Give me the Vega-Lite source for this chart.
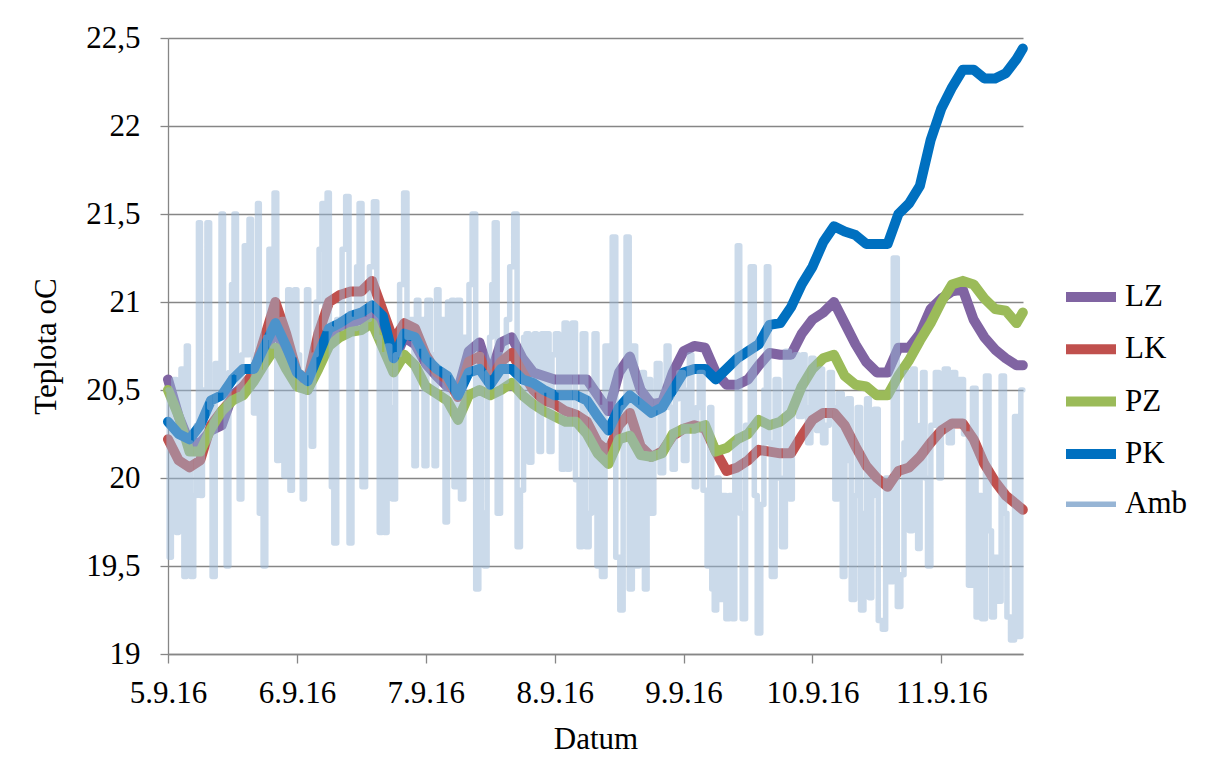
{
"$schema": "https://vega.github.io/schema/vega-lite/v6.json",
"width": 855, "height": 616,
"autosize": "none",
"padding": {"left": 168, "top": 38, "right": 190, "bottom": 124},
"background": "white",
"datasets": {
"main": [
{"t":"2016-09-05T00:00","LZ":20.56,"LK":20.22,"PZ":20.5,"PK":20.32},
{"t":"2016-09-05T02:00","LZ":20.35,"LK":20.1,"PZ":20.35,"PK":20.25},
{"t":"2016-09-05T04:00","LZ":20.2,"LK":20.06,"PZ":20.15,"PK":20.22},
{"t":"2016-09-05T06:00","LZ":20.2,"LK":20.1,"PZ":20.15,"PK":20.3},
{"t":"2016-09-05T08:00","LZ":20.27,"LK":20.3,"PZ":20.28,"PK":20.44},
{"t":"2016-09-05T10:00","LZ":20.3,"LK":20.38,"PZ":20.38,"PK":20.47},
{"t":"2016-09-05T12:00","LZ":20.47,"LK":20.45,"PZ":20.44,"PK":20.56},
{"t":"2016-09-05T14:00","LZ":20.52,"LK":20.52,"PZ":20.47,"PK":20.62},
{"t":"2016-09-05T16:00","LZ":20.58,"LK":20.6,"PZ":20.55,"PK":20.62},
{"t":"2016-09-05T18:00","LZ":20.7,"LK":20.8,"PZ":20.65,"PK":20.75},
{"t":"2016-09-05T20:00","LZ":20.85,"LK":21.0,"PZ":20.74,"PK":20.88},
{"t":"2016-09-05T22:00","LZ":20.7,"LK":20.82,"PZ":20.62,"PK":20.75},
{"t":"2016-09-06T00:00","LZ":20.55,"LK":20.6,"PZ":20.52,"PK":20.6},
{"t":"2016-09-06T02:00","LZ":20.5,"LK":20.55,"PZ":20.5,"PK":20.55},
{"t":"2016-09-06T04:00","LZ":20.68,"LK":20.82,"PZ":20.62,"PK":20.7},
{"t":"2016-09-06T06:00","LZ":20.82,"LK":21.0,"PZ":20.75,"PK":20.85},
{"t":"2016-09-06T08:00","LZ":20.86,"LK":21.04,"PZ":20.8,"PK":20.88},
{"t":"2016-09-06T10:00","LZ":20.88,"LK":21.06,"PZ":20.83,"PK":20.92},
{"t":"2016-09-06T12:00","LZ":20.9,"LK":21.06,"PZ":20.84,"PK":20.94},
{"t":"2016-09-06T14:00","LZ":20.95,"LK":21.12,"PZ":20.88,"PK":20.98},
{"t":"2016-09-06T16:00","LZ":20.85,"LK":20.95,"PZ":20.74,"PK":20.92},
{"t":"2016-09-06T18:00","LZ":20.66,"LK":20.78,"PZ":20.6,"PK":20.68},
{"t":"2016-09-06T20:00","LZ":20.8,"LK":20.88,"PZ":20.7,"PK":20.82},
{"t":"2016-09-06T22:00","LZ":20.76,"LK":20.85,"PZ":20.64,"PK":20.8},
{"t":"2016-09-07T00:00","LZ":20.65,"LK":20.7,"PZ":20.52,"PK":20.68},
{"t":"2016-09-07T02:00","LZ":20.58,"LK":20.6,"PZ":20.48,"PK":20.62},
{"t":"2016-09-07T04:00","LZ":20.52,"LK":20.56,"PZ":20.44,"PK":20.58},
{"t":"2016-09-07T06:00","LZ":20.5,"LK":20.46,"PZ":20.33,"PK":20.47},
{"t":"2016-09-07T08:00","LZ":20.72,"LK":20.66,"PZ":20.47,"PK":20.6},
{"t":"2016-09-07T10:00","LZ":20.77,"LK":20.69,"PZ":20.5,"PK":20.62},
{"t":"2016-09-07T12:00","LZ":20.58,"LK":20.55,"PZ":20.47,"PK":20.53},
{"t":"2016-09-07T14:00","LZ":20.77,"LK":20.66,"PZ":20.5,"PK":20.62},
{"t":"2016-09-07T16:00","LZ":20.8,"LK":20.71,"PZ":20.54,"PK":20.62},
{"t":"2016-09-07T18:00","LZ":20.68,"LK":20.6,"PZ":20.47,"PK":20.56},
{"t":"2016-09-07T20:00","LZ":20.6,"LK":20.5,"PZ":20.42,"PK":20.54},
{"t":"2016-09-07T22:00","LZ":20.58,"LK":20.44,"PZ":20.38,"PK":20.5},
{"t":"2016-09-08T00:00","LZ":20.56,"LK":20.42,"PZ":20.35,"PK":20.47},
{"t":"2016-09-08T02:00","LZ":20.56,"LK":20.38,"PZ":20.32,"PK":20.47},
{"t":"2016-09-08T04:00","LZ":20.56,"LK":20.36,"PZ":20.32,"PK":20.47},
{"t":"2016-09-08T06:00","LZ":20.56,"LK":20.32,"PZ":20.25,"PK":20.44},
{"t":"2016-09-08T08:00","LZ":20.47,"LK":20.2,"PZ":20.14,"PK":20.35},
{"t":"2016-09-08T10:00","LZ":20.38,"LK":20.15,"PZ":20.08,"PK":20.27},
{"t":"2016-09-08T12:00","LZ":20.6,"LK":20.3,"PZ":20.22,"PK":20.4},
{"t":"2016-09-08T14:00","LZ":20.69,"LK":20.37,"PZ":20.24,"PK":20.47},
{"t":"2016-09-08T16:00","LZ":20.5,"LK":20.18,"PZ":20.13,"PK":20.42},
{"t":"2016-09-08T18:00","LZ":20.42,"LK":20.12,"PZ":20.12,"PK":20.37},
{"t":"2016-09-08T20:00","LZ":20.43,"LK":20.15,"PZ":20.14,"PK":20.4},
{"t":"2016-09-08T22:00","LZ":20.6,"LK":20.24,"PZ":20.25,"PK":20.5},
{"t":"2016-09-09T00:00","LZ":20.72,"LK":20.28,"PZ":20.28,"PK":20.6},
{"t":"2016-09-09T02:00","LZ":20.75,"LK":20.3,"PZ":20.28,"PK":20.62},
{"t":"2016-09-09T04:00","LZ":20.74,"LK":20.28,"PZ":20.3,"PK":20.62},
{"t":"2016-09-09T06:00","LZ":20.6,"LK":20.15,"PZ":20.15,"PK":20.56},
{"t":"2016-09-09T08:00","LZ":20.53,"LK":20.04,"PZ":20.17,"PK":20.62},
{"t":"2016-09-09T10:00","LZ":20.53,"LK":20.06,"PZ":20.22,"PK":20.68},
{"t":"2016-09-09T12:00","LZ":20.56,"LK":20.1,"PZ":20.25,"PK":20.72},
{"t":"2016-09-09T14:00","LZ":20.64,"LK":20.16,"PZ":20.33,"PK":20.76},
{"t":"2016-09-09T16:00","LZ":20.71,"LK":20.15,"PZ":20.3,"PK":20.87},
{"t":"2016-09-09T18:00","LZ":20.7,"LK":20.14,"PZ":20.32,"PK":20.88},
{"t":"2016-09-09T20:00","LZ":20.7,"LK":20.14,"PZ":20.37,"PK":20.97},
{"t":"2016-09-09T22:00","LZ":20.82,"LK":20.24,"PZ":20.52,"PK":21.1},
{"t":"2016-09-10T00:00","LZ":20.9,"LK":20.33,"PZ":20.62,"PK":21.2},
{"t":"2016-09-10T02:00","LZ":20.94,"LK":20.37,"PZ":20.68,"PK":21.34},
{"t":"2016-09-10T04:00","LZ":21.0,"LK":20.37,"PZ":20.7,"PK":21.43},
{"t":"2016-09-10T06:00","LZ":20.88,"LK":20.3,"PZ":20.58,"PK":21.4},
{"t":"2016-09-10T08:00","LZ":20.76,"LK":20.18,"PZ":20.53,"PK":21.38},
{"t":"2016-09-10T10:00","LZ":20.66,"LK":20.07,"PZ":20.52,"PK":21.33},
{"t":"2016-09-10T12:00","LZ":20.6,"LK":20.0,"PZ":20.47,"PK":21.33},
{"t":"2016-09-10T14:00","LZ":20.6,"LK":19.95,"PZ":20.47,"PK":21.33},
{"t":"2016-09-10T16:00","LZ":20.74,"LK":20.04,"PZ":20.58,"PK":21.5},
{"t":"2016-09-10T18:00","LZ":20.74,"LK":20.06,"PZ":20.67,"PK":21.56},
{"t":"2016-09-10T20:00","LZ":20.82,"LK":20.12,"PZ":20.78,"PK":21.66},
{"t":"2016-09-10T22:00","LZ":20.96,"LK":20.2,"PZ":20.88,"PK":21.92},
{"t":"2016-09-11T00:00","LZ":21.02,"LK":20.27,"PZ":21.0,"PK":22.1},
{"t":"2016-09-11T02:00","LZ":21.06,"LK":20.31,"PZ":21.1,"PK":22.22},
{"t":"2016-09-11T04:00","LZ":21.07,"LK":20.31,"PZ":21.12,"PK":22.32},
{"t":"2016-09-11T06:00","LZ":20.9,"LK":20.22,"PZ":21.1,"PK":22.32},
{"t":"2016-09-11T08:00","LZ":20.8,"LK":20.08,"PZ":21.02,"PK":22.27},
{"t":"2016-09-11T10:00","LZ":20.73,"LK":19.98,"PZ":20.96,"PK":22.27},
{"t":"2016-09-11T12:00","LZ":20.68,"LK":19.9,"PZ":20.95,"PK":22.3},
{"t":"2016-09-11T14:00","LZ":20.64,"LK":19.85,"PZ":20.88,"PK":22.38},
{"t":"2016-09-11T15:10","LZ":20.64,"LK":19.82,"PZ":20.94,"PK":22.44}
],
"amb": [
{"t":"2016-09-05T00:00","Amb":20.5},
{"t":"2016-09-05T00:25","Amb":19.55},
{"t":"2016-09-05T00:50","Amb":20.1},
{"t":"2016-09-05T01:20","Amb":20.56},
{"t":"2016-09-05T01:45","Amb":19.69},
{"t":"2016-09-05T02:10","Amb":20.3},
{"t":"2016-09-05T02:40","Amb":20.62},
{"t":"2016-09-05T03:15","Amb":19.44},
{"t":"2016-09-05T03:35","Amb":20.75},
{"t":"2016-09-05T04:00","Amb":20.2},
{"t":"2016-09-05T04:30","Amb":19.44},
{"t":"2016-09-05T05:05","Amb":19.9},
{"t":"2016-09-05T05:30","Amb":20.3},
{"t":"2016-09-05T05:50","Amb":21.45},
{"t":"2016-09-05T06:15","Amb":19.9},
{"t":"2016-09-05T06:35","Amb":20.5},
{"t":"2016-09-05T07:00","Amb":20.45},
{"t":"2016-09-05T07:30","Amb":21.45},
{"t":"2016-09-05T08:00","Amb":20.4},
{"t":"2016-09-05T08:25","Amb":19.44},
{"t":"2016-09-05T09:10","Amb":20.65},
{"t":"2016-09-05T09:40","Amb":20.5},
{"t":"2016-09-05T10:05","Amb":21.5},
{"t":"2016-09-05T10:35","Amb":20.5},
{"t":"2016-09-05T11:05","Amb":19.5},
{"t":"2016-09-05T11:35","Amb":20.6},
{"t":"2016-09-05T12:05","Amb":21.1},
{"t":"2016-09-05T12:30","Amb":21.5},
{"t":"2016-09-05T13:00","Amb":20.6},
{"t":"2016-09-05T13:30","Amb":19.88},
{"t":"2016-09-05T14:00","Amb":20.7},
{"t":"2016-09-05T14:25","Amb":21.32},
{"t":"2016-09-05T14:50","Amb":20.7},
{"t":"2016-09-05T15:20","Amb":21.47},
{"t":"2016-09-05T15:45","Amb":20.7},
{"t":"2016-09-05T16:05","Amb":20.37},
{"t":"2016-09-05T16:30","Amb":20.65},
{"t":"2016-09-05T16:50","Amb":21.56},
{"t":"2016-09-05T17:10","Amb":19.8},
{"t":"2016-09-05T17:30","Amb":20.6},
{"t":"2016-09-05T17:55","Amb":19.5},
{"t":"2016-09-05T18:30","Amb":20.8},
{"t":"2016-09-05T19:05","Amb":21.3},
{"t":"2016-09-05T19:30","Amb":20.75},
{"t":"2016-09-05T20:00","Amb":21.62},
{"t":"2016-09-05T20:30","Amb":20.1},
{"t":"2016-09-05T20:55","Amb":20.8},
{"t":"2016-09-05T21:20","Amb":20.9},
{"t":"2016-09-05T21:50","Amb":20.01},
{"t":"2016-09-05T22:10","Amb":20.7},
{"t":"2016-09-05T22:25","Amb":21.07},
{"t":"2016-09-05T23:00","Amb":19.93},
{"t":"2016-09-05T23:20","Amb":20.7},
{"t":"2016-09-05T23:45","Amb":21.07},
{"t":"2016-09-06T00:15","Amb":20.7},
{"t":"2016-09-06T00:45","Amb":20.5},
{"t":"2016-09-06T01:15","Amb":19.88},
{"t":"2016-09-06T01:35","Amb":20.6},
{"t":"2016-09-06T02:00","Amb":21.07},
{"t":"2016-09-06T02:25","Amb":20.6},
{"t":"2016-09-06T02:55","Amb":20.18},
{"t":"2016-09-06T03:20","Amb":20.7},
{"t":"2016-09-06T03:50","Amb":21.0},
{"t":"2016-09-06T04:25","Amb":21.3},
{"t":"2016-09-06T04:55","Amb":21.56},
{"t":"2016-09-06T05:25","Amb":20.85},
{"t":"2016-09-06T05:50","Amb":21.62},
{"t":"2016-09-06T06:15","Amb":20.85},
{"t":"2016-09-06T06:35","Amb":19.95},
{"t":"2016-09-06T07:10","Amb":19.63},
{"t":"2016-09-06T07:40","Amb":20.9},
{"t":"2016-09-06T08:05","Amb":20.85},
{"t":"2016-09-06T08:45","Amb":21.3},
{"t":"2016-09-06T09:25","Amb":21.6},
{"t":"2016-09-06T10:00","Amb":19.63},
{"t":"2016-09-06T10:30","Amb":20.9},
{"t":"2016-09-06T10:55","Amb":20.85},
{"t":"2016-09-06T11:20","Amb":21.2},
{"t":"2016-09-06T11:50","Amb":21.56},
{"t":"2016-09-06T12:25","Amb":19.95},
{"t":"2016-09-06T13:10","Amb":20.9},
{"t":"2016-09-06T13:50","Amb":21.2},
{"t":"2016-09-06T14:40","Amb":21.57},
{"t":"2016-09-06T15:05","Amb":20.8},
{"t":"2016-09-06T15:35","Amb":19.69},
{"t":"2016-09-06T16:05","Amb":20.7},
{"t":"2016-09-06T16:30","Amb":19.69},
{"t":"2016-09-06T17:05","Amb":20.75},
{"t":"2016-09-06T17:30","Amb":20.4},
{"t":"2016-09-06T18:00","Amb":19.88},
{"t":"2016-09-06T18:45","Amb":20.7},
{"t":"2016-09-06T19:30","Amb":21.1},
{"t":"2016-09-06T20:15","Amb":21.62},
{"t":"2016-09-06T20:45","Amb":20.8},
{"t":"2016-09-06T21:30","Amb":20.9},
{"t":"2016-09-06T22:05","Amb":20.07},
{"t":"2016-09-06T22:25","Amb":21.01},
{"t":"2016-09-06T23:00","Amb":20.75},
{"t":"2016-09-06T23:25","Amb":20.9},
{"t":"2016-09-06T23:55","Amb":20.07},
{"t":"2016-09-07T00:30","Amb":21.01},
{"t":"2016-09-07T01:15","Amb":20.7},
{"t":"2016-09-07T01:50","Amb":20.07},
{"t":"2016-09-07T02:10","Amb":21.07},
{"t":"2016-09-07T02:45","Amb":20.65},
{"t":"2016-09-07T03:20","Amb":20.9},
{"t":"2016-09-07T03:50","Amb":19.75},
{"t":"2016-09-07T04:15","Amb":21.0},
{"t":"2016-09-07T04:35","Amb":20.6},
{"t":"2016-09-07T05:00","Amb":21.01},
{"t":"2016-09-07T05:30","Amb":19.95},
{"t":"2016-09-07T06:05","Amb":21.01},
{"t":"2016-09-07T06:50","Amb":19.88},
{"t":"2016-09-07T07:20","Amb":20.8},
{"t":"2016-09-07T07:45","Amb":20.6},
{"t":"2016-09-07T08:20","Amb":21.1},
{"t":"2016-09-07T08:55","Amb":21.5},
{"t":"2016-09-07T09:40","Amb":19.37},
{"t":"2016-09-07T10:05","Amb":20.7},
{"t":"2016-09-07T10:35","Amb":19.8},
{"t":"2016-09-07T11:10","Amb":19.5},
{"t":"2016-09-07T11:40","Amb":20.6},
{"t":"2016-09-07T12:05","Amb":20.8},
{"t":"2016-09-07T12:30","Amb":21.1},
{"t":"2016-09-07T13:00","Amb":21.45},
{"t":"2016-09-07T13:35","Amb":19.8},
{"t":"2016-09-07T14:15","Amb":20.7},
{"t":"2016-09-07T14:45","Amb":20.55},
{"t":"2016-09-07T15:15","Amb":20.9},
{"t":"2016-09-07T16:00","Amb":21.2},
{"t":"2016-09-07T16:45","Amb":21.5},
{"t":"2016-09-07T17:15","Amb":19.61},
{"t":"2016-09-07T18:00","Amb":19.93},
{"t":"2016-09-07T18:25","Amb":20.8},
{"t":"2016-09-07T18:55","Amb":20.82},
{"t":"2016-09-07T19:30","Amb":20.09},
{"t":"2016-09-07T20:00","Amb":20.6},
{"t":"2016-09-07T20:25","Amb":20.82},
{"t":"2016-09-07T20:50","Amb":20.5},
{"t":"2016-09-07T21:20","Amb":20.15},
{"t":"2016-09-07T21:45","Amb":20.82},
{"t":"2016-09-07T22:10","Amb":20.5},
{"t":"2016-09-07T22:40","Amb":20.82},
{"t":"2016-09-07T23:15","Amb":20.15},
{"t":"2016-09-07T23:45","Amb":20.7},
{"t":"2016-09-08T00:30","Amb":20.82},
{"t":"2016-09-08T01:00","Amb":20.5},
{"t":"2016-09-08T01:30","Amb":20.05},
{"t":"2016-09-08T02:00","Amb":20.88},
{"t":"2016-09-08T02:35","Amb":20.05},
{"t":"2016-09-08T03:00","Amb":20.6},
{"t":"2016-09-08T03:30","Amb":20.88},
{"t":"2016-09-08T04:15","Amb":19.99},
{"t":"2016-09-08T04:50","Amb":19.61},
{"t":"2016-09-08T05:25","Amb":20.82},
{"t":"2016-09-08T06:10","Amb":19.61},
{"t":"2016-09-08T06:40","Amb":19.8},
{"t":"2016-09-08T07:05","Amb":20.5},
{"t":"2016-09-08T07:35","Amb":20.82},
{"t":"2016-09-08T08:10","Amb":19.5},
{"t":"2016-09-08T08:30","Amb":20.4},
{"t":"2016-09-08T08:55","Amb":19.44},
{"t":"2016-09-08T09:50","Amb":20.75},
{"t":"2016-09-08T10:25","Amb":20.45},
{"t":"2016-09-08T11:00","Amb":21.37},
{"t":"2016-09-08T11:45","Amb":19.55},
{"t":"2016-09-08T12:30","Amb":19.25},
{"t":"2016-09-08T13:00","Amb":20.4},
{"t":"2016-09-08T13:35","Amb":21.37},
{"t":"2016-09-08T14:10","Amb":19.37},
{"t":"2016-09-08T14:45","Amb":20.75},
{"t":"2016-09-08T15:25","Amb":19.5},
{"t":"2016-09-08T16:00","Amb":20.4},
{"t":"2016-09-08T16:30","Amb":20.6},
{"t":"2016-09-08T16:55","Amb":19.37},
{"t":"2016-09-08T17:30","Amb":20.56},
{"t":"2016-09-08T18:15","Amb":19.8},
{"t":"2016-09-08T18:40","Amb":20.4},
{"t":"2016-09-08T19:10","Amb":20.65},
{"t":"2016-09-08T20:05","Amb":20.03},
{"t":"2016-09-08T20:30","Amb":20.5},
{"t":"2016-09-08T21:00","Amb":20.75},
{"t":"2016-09-08T21:35","Amb":20.4},
{"t":"2016-09-08T22:10","Amb":20.05},
{"t":"2016-09-08T22:45","Amb":20.45},
{"t":"2016-09-08T23:30","Amb":20.6},
{"t":"2016-09-09T00:25","Amb":20.1},
{"t":"2016-09-09T00:50","Amb":20.5},
{"t":"2016-09-09T01:20","Amb":20.7},
{"t":"2016-09-09T01:45","Amb":20.3},
{"t":"2016-09-09T02:15","Amb":19.95},
{"t":"2016-09-09T02:40","Amb":20.4},
{"t":"2016-09-09T03:10","Amb":20.6},
{"t":"2016-09-09T04:05","Amb":19.93},
{"t":"2016-09-09T04:40","Amb":19.5},
{"t":"2016-09-09T05:05","Amb":20.4},
{"t":"2016-09-09T05:25","Amb":19.37},
{"t":"2016-09-09T06:00","Amb":19.25},
{"t":"2016-09-09T06:20","Amb":20.0},
{"t":"2016-09-09T06:55","Amb":19.31},
{"t":"2016-09-09T07:30","Amb":19.9},
{"t":"2016-09-09T08:15","Amb":19.2},
{"t":"2016-09-09T08:45","Amb":19.9},
{"t":"2016-09-09T09:20","Amb":19.2},
{"t":"2016-09-09T09:45","Amb":20.2},
{"t":"2016-09-09T10:15","Amb":21.32},
{"t":"2016-09-09T10:40","Amb":19.8},
{"t":"2016-09-09T11:10","Amb":19.2},
{"t":"2016-09-09T11:55","Amb":20.3},
{"t":"2016-09-09T12:55","Amb":21.2},
{"t":"2016-09-09T13:25","Amb":19.9},
{"t":"2016-09-09T14:00","Amb":19.12},
{"t":"2016-09-09T14:45","Amb":19.85},
{"t":"2016-09-09T15:10","Amb":20.5},
{"t":"2016-09-09T15:40","Amb":21.2},
{"t":"2016-09-09T16:05","Amb":20.2},
{"t":"2016-09-09T16:35","Amb":19.44},
{"t":"2016-09-09T17:30","Amb":20.56},
{"t":"2016-09-09T18:00","Amb":20.0},
{"t":"2016-09-09T18:30","Amb":19.61},
{"t":"2016-09-09T19:25","Amb":20.72},
{"t":"2016-09-09T20:00","Amb":19.88},
{"t":"2016-09-09T20:30","Amb":20.4},
{"t":"2016-09-09T20:55","Amb":20.7},
{"t":"2016-09-09T21:50","Amb":20.35},
{"t":"2016-09-09T22:25","Amb":20.7},
{"t":"2016-09-09T22:50","Amb":20.4},
{"t":"2016-09-09T23:20","Amb":20.2},
{"t":"2016-09-10T00:05","Amb":20.68},
{"t":"2016-09-10T00:30","Amb":20.3},
{"t":"2016-09-10T01:00","Amb":20.27},
{"t":"2016-09-10T01:35","Amb":20.62},
{"t":"2016-09-10T02:10","Amb":20.2},
{"t":"2016-09-10T02:50","Amb":20.3},
{"t":"2016-09-10T03:25","Amb":20.6},
{"t":"2016-09-10T04:00","Amb":20.4},
{"t":"2016-09-10T04:20","Amb":19.88},
{"t":"2016-09-10T05:15","Amb":20.48},
{"t":"2016-09-10T05:50","Amb":19.44},
{"t":"2016-09-10T06:15","Amb":20.1},
{"t":"2016-09-10T06:45","Amb":20.45},
{"t":"2016-09-10T07:40","Amb":19.31},
{"t":"2016-09-10T08:05","Amb":19.9},
{"t":"2016-09-10T08:35","Amb":20.4},
{"t":"2016-09-10T09:20","Amb":19.25},
{"t":"2016-09-10T09:50","Amb":19.8},
{"t":"2016-09-10T10:20","Amb":20.45},
{"t":"2016-09-10T10:50","Amb":19.32},
{"t":"2016-09-10T11:15","Amb":19.9},
{"t":"2016-09-10T11:45","Amb":20.39},
{"t":"2016-09-10T12:45","Amb":19.19},
{"t":"2016-09-10T13:15","Amb":19.14},
{"t":"2016-09-10T14:00","Amb":20.0},
{"t":"2016-09-10T14:35","Amb":19.41},
{"t":"2016-09-10T15:30","Amb":21.25},
{"t":"2016-09-10T16:05","Amb":19.27},
{"t":"2016-09-10T16:50","Amb":19.45},
{"t":"2016-09-10T17:15","Amb":20.2},
{"t":"2016-09-10T17:45","Amb":20.6},
{"t":"2016-09-10T18:20","Amb":19.7},
{"t":"2016-09-10T18:55","Amb":20.62},
{"t":"2016-09-10T19:20","Amb":20.1},
{"t":"2016-09-10T19:50","Amb":19.6},
{"t":"2016-09-10T20:15","Amb":20.3},
{"t":"2016-09-10T20:45","Amb":20.6},
{"t":"2016-09-10T21:10","Amb":20.0},
{"t":"2016-09-10T21:40","Amb":19.5},
{"t":"2016-09-10T22:25","Amb":20.3},
{"t":"2016-09-10T23:20","Amb":20.6},
{"t":"2016-09-10T23:45","Amb":20.0},
{"t":"2016-09-11T00:15","Amb":20.3},
{"t":"2016-09-11T00:50","Amb":20.62},
{"t":"2016-09-11T01:45","Amb":20.2},
{"t":"2016-09-11T02:20","Amb":20.6},
{"t":"2016-09-11T03:00","Amb":20.3},
{"t":"2016-09-11T03:40","Amb":20.56},
{"t":"2016-09-11T04:35","Amb":20.25},
{"t":"2016-09-11T05:30","Amb":19.39},
{"t":"2016-09-11T06:05","Amb":20.51},
{"t":"2016-09-11T06:50","Amb":19.21},
{"t":"2016-09-11T07:15","Amb":19.9},
{"t":"2016-09-11T07:45","Amb":19.2},
{"t":"2016-09-11T08:40","Amb":20.58},
{"t":"2016-09-11T09:05","Amb":19.7},
{"t":"2016-09-11T09:35","Amb":19.21},
{"t":"2016-09-11T10:10","Amb":19.55},
{"t":"2016-09-11T10:45","Amb":19.3},
{"t":"2016-09-11T11:30","Amb":20.58},
{"t":"2016-09-11T12:00","Amb":19.8},
{"t":"2016-09-11T12:25","Amb":19.21},
{"t":"2016-09-11T13:20","Amb":19.08},
{"t":"2016-09-11T13:55","Amb":20.35},
{"t":"2016-09-11T14:25","Amb":19.1},
{"t":"2016-09-11T15:10","Amb":20.5}
]
},
"encoding": {
"x": {"field": "t", "type": "temporal",
 "scale": {"domain": [{"year": 2016, "month": 9, "date": 5}, {"year": 2016, "month": 9, "date": 11, "hours": 15, "minutes": 12}]},
 "axis": {"title": "Datum", "format": "%-d.%-m.%y", "grid": false, "tickSize": 9, "labelPadding": 15, "labelFlush": false, "labelOverlap": false, "titleY": 94, "titleBaseline": "alphabetic",
  "values": [{"year": 2016, "month": 9, "date": 5}, {"year": 2016, "month": 9, "date": 6}, {"year": 2016, "month": 9, "date": 7}, {"year": 2016, "month": 9, "date": 8}, {"year": 2016, "month": 9, "date": 9}, {"year": 2016, "month": 9, "date": 10}, {"year": 2016, "month": 9, "date": 11}]}},
"y": {"field": "v", "type": "quantitative",
 "scale": {"domain": [19, 22.5], "zero": false, "nice": false},
 "axis": {"title": "Teplota oC", "values": [19, 19.5, 20, 20.5, 21, 21.5, 22, 22.5], "labelExpr": "replace(format(datum.value, '.1~f'), '.', ',')", "tickSize": 8, "labelPadding": 20, "grid": true, "titleX": -113, "titleBaseline": "alphabetic"}},
"color": {"field": "series", "type": "nominal",
 "scale": {"domain": ["LZ", "LK", "PZ", "PK", "Amb"], "range": ["#8064A2", "#C0504D", "#9BBB59", "#0070C0", "#97B5D5"]},
 "legend": {"title": null, "orient": "none", "legendX": 893, "legendY": 229, "symbolType": "stroke", "symbolSize": 2500, "labelFontSize": 31, "labelFont": "Liberation Serif", "labelColor": "#000", "rowPadding": 2.3, "labelOffset": 4}},
"strokeWidth": {"field": "series", "type": "nominal",
 "scale": {"type": "ordinal", "domain": ["LZ", "LK", "PZ", "PK", "Amb"], "range": [10, 10, 10, 10, 5.5]},
 "legend": {"title": null, "orient": "none", "legendX": 893, "legendY": 229, "symbolType": "stroke", "symbolSize": 2500, "labelFontSize": 31, "labelFont": "Liberation Serif", "labelColor": "#000", "rowPadding": 2.3, "labelOffset": 4}},
"strokeOpacity": {"field": "series", "type": "nominal",
 "scale": {"type": "ordinal", "domain": ["LZ", "LK", "PZ", "PK", "Amb"], "range": [1, 1, 1, 1, 0.5]},
 "legend": {"title": null, "orient": "none", "legendX": 893, "legendY": 229, "symbolType": "stroke", "symbolSize": 2500, "labelFontSize": 31, "labelFont": "Liberation Serif", "labelColor": "#000", "rowPadding": 2.3, "labelOffset": 4}}
},
"layer": [
{"data": {"name": "main"}, "transform": [{"fold": ["LZ", "LK", "PZ", "PK"], "as": ["series", "v"]}],
 "mark": {"type": "line", "strokeCap": "round", "strokeJoin": "round"}},
{"data": {"name": "amb"}, "transform": [{"fold": ["Amb"], "as": ["series", "v"]}],
 "mark": {"type": "line", "strokeCap": "round", "strokeJoin": "round", "interpolate": "step"}}
],
"config": {
 "font": "Liberation Serif",
 "view": {"stroke": null},
 "axis": {"labelFont": "Liberation Serif", "labelFontSize": 31, "labelColor": "#000", "titleFont": "Liberation Serif", "titleFontSize": 31, "titleFontWeight": "normal", "titleColor": "#000", "domainColor": "#868686", "tickColor": "#868686", "gridColor": "#868686", "domainWidth": 1.3, "tickWidth": 1.3, "gridWidth": 1.3}
}
}
